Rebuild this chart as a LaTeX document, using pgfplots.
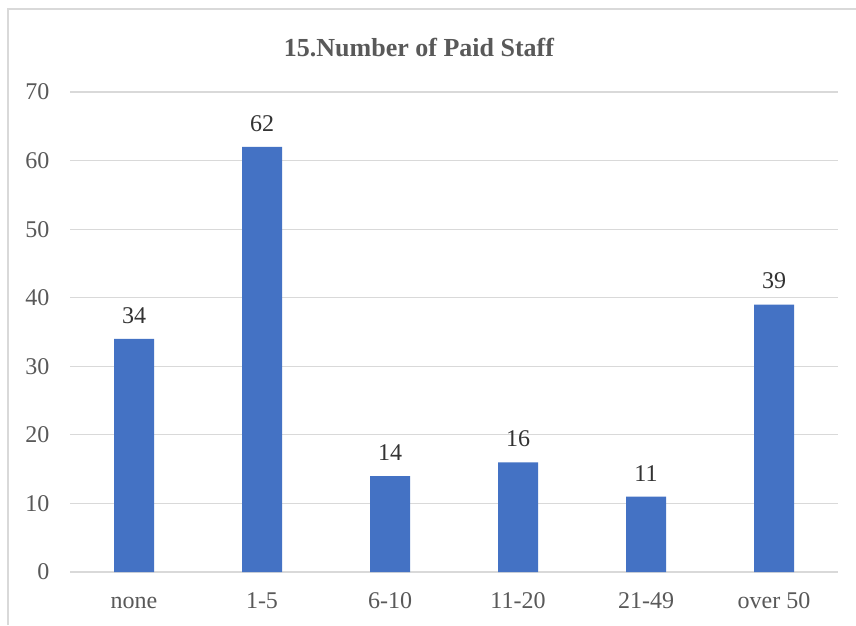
\documentclass[border=0pt]{standalone}
\usepackage{pgfplots}
\pgfplotsset{compat=1.18}
\usepackage{fontspec}
\setmainfont{Liberation Serif}
\definecolor{barblue}{HTML}{4472C4}
\definecolor{txtgray}{HTML}{595959}
\definecolor{gridgray}{HTML}{D9D9D9}
\begin{document}
\begin{tikzpicture}[x=1pt,y=1pt]
\useasboundingbox (0,0) rectangle (856,625);
\fill[white] (0,0) rectangle (856,625);
\draw[gridgray,line width=1.5pt] (8,0) -- (8,616) -- (856,616);
\node[txtgray,font=\fontsize{26}{30}\selectfont\bfseries] at (419,577) {15.Number of Paid Staff};
\begin{axis}[
  at={(70pt,53pt)}, anchor=south west,
  scale only axis, width=768pt, height=480pt,
  xmin=-0.5, xmax=5.5, ymin=0, ymax=70,
  ytick={0,10,...,70},
  xtick={0,1,2,3,4,5},
  xticklabels={none,1-5,6-10,11-20,21-49,over 50},
  axis line style={draw=none},
  major tick length=0pt,
  ymajorgrids, grid style={gridgray,line width=1.2pt},
  tick label style={txtgray,font=\fontsize{24}{28}\selectfont},
  /pgf/number format/assume math mode=true,
  yticklabel style={xshift=-17pt},
  xticklabel style={anchor=base, yshift=-36pt},
  bar width=40pt,
  nodes near coords,
  every node near coord/.append style={black!80,font=\fontsize{24}{28}\selectfont,yshift=12pt},
]
\addplot[ybar,fill=barblue,draw=none] coordinates {(0,34) (1,62) (2,14) (3,16) (4,11) (5,39)};
\end{axis}
\end{tikzpicture}
\end{document}
